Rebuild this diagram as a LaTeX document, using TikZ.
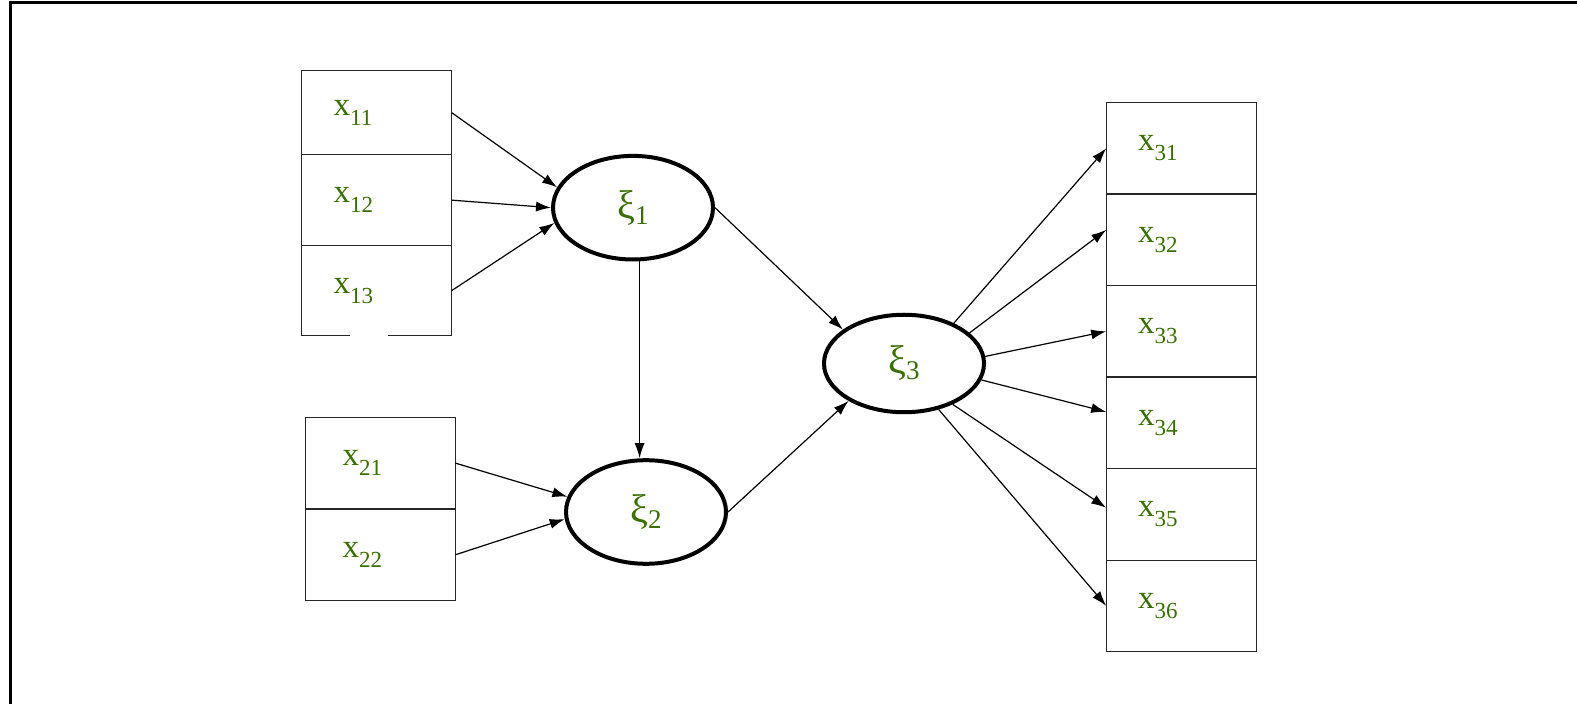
\documentclass[tikz,border=0pt]{standalone}
\usepackage{fontspec}
\setmainfont{Liberation Serif}
\usepackage{xcolor}
\usepackage{tikz}
\usetikzlibrary{arrows.meta,positioning,shapes.geometric}
\definecolor{latgreen}{RGB}{56,112,0}
\newcommand{\lsub}[2][5pt]{\raisebox{-#1}{\fontsize{11.5}{13}\selectfont #2}}
\newcommand{\xisub}[1]{\raisebox{-3pt}{\fontsize{13.5}{15}\selectfont #1}}

\begin{document}
\begin{tikzpicture}[x=0.5pt, y=-0.5pt,
  cell/.style={draw=black!85, line width=0.6pt, outer sep=0pt,
    minimum width=75pt, minimum height=45.75pt, text width=43pt,
    inner xsep=16pt, align=left, font=\fontsize{16.5}{18}\selectfont,
    text=latgreen},
  latent/.style={ellipse, draw, line width=2pt, minimum width=80pt,
    minimum height=51.8pt, inner sep=0pt, font=\fontsize{20}{22}\selectfont,
    text=latgreen},
  arr/.style={-{Latex[length=7.5pt,width=5pt]}, line width=0.6pt},
]
\useasboundingbox (0,0) rectangle (1577,704);

% --- frame ---
\draw[line width=1.5pt] (10.5,704) -- (10.5,3) -- (1577,3);

% --- xi1 indicators ---
\node[cell, minimum height=42.25pt] (x11) at (376.65,112.65) {x\lsub{11}};
\node[cell, minimum height=45.25pt, below=0pt of x11] (x12) {x\lsub{12}};
\node[cell, draw=none, minimum height=45.25pt, below=0pt of x12] (x13) {x\lsub{13}};
\draw[black!85, line width=0.6pt] ([xshift=24.2pt]x13.south west) -- (x13.south west)
  |- (x13.north east) -- (x13.south east) -- ([xshift=-31.8pt]x13.south east);

% --- xi2 indicators ---
\node[cell, inner xsep=18.5pt, text width=38pt] (x21) at (380.65,463.2) {x\lsub{21}};
\node[cell, inner xsep=18.5pt, text width=38pt, below=0pt of x21] (x22) {x\lsub{22}};

% --- xi3 indicators ---
\node[cell] (x31) at (1181.2,148.35) {x\lsub{31}};
\node[cell, below=0pt of x31] (x32) {x\lsub{32}};
\node[cell, below=0pt of x32] (x33) {x\lsub{33}};
\node[cell, below=0pt of x33] (x34) {x\lsub{34}};
\node[cell, below=0pt of x34] (x35) {x\lsub{35}};
\node[cell, below=0pt of x35] (x36) {x\lsub{36}};

% --- latent variables ---
\node[latent] (xi1) at (633,207.7) {ξ\xisub{1}\hspace{12pt}};
\node[latent] (xi2) at (646,512) {ξ\xisub{2}\hspace{8pt}};
\node[latent, minimum height=48.75pt] (xi3) at (904,363.5) {ξ\xisub{3}\hspace{9pt}};

% --- paths ---
\draw[arr] (x11.east) -- (xi1.165);
\draw[arr] (x12.east) -- (xi1.west);
\draw[arr] (x13.east) -- (xi1.191);
\draw[arr] (x21.east) -- (xi2.169);
\draw[arr] (x22.east) -- (xi2.185);
\draw[arr] (xi1.-83) -- (xi1.-83 |- xi2.north);
\draw[arr] (xi1.east) -- (xi3.151);
\draw[arr] (xi2.east) -- (xi3.214);
\draw[arr] (xi3.39) -- (x31.west);
\draw[arr] (xi3.25) -- ([yshift=5pt]x32.west);
\draw[arr] (xi3.5) -- (x33.west);
\draw[arr] (xi3.-12) -- ([yshift=5.5pt]x34.west);
\draw[arr] (xi3.-40) -- ([yshift=3.3pt]x35.west);
\draw[arr] (xi3.-53) -- (x36.west);
\end{tikzpicture}
\end{document}
